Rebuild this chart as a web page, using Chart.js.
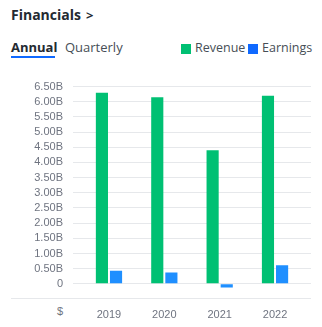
<!DOCTYPE html>
<html>
<head>
<meta charset="utf-8">
<script src="https://cdn.jsdelivr.net/npm/chart.js@4"></script>
<style>
  body { margin: 0; background: #fff; font-family: "Open Sans", sans-serif; color: #232a31; }
  #wrap { position: relative; width: 322px; height: 327px; overflow: hidden; }
  .abs { position: absolute; white-space: nowrap; }
  #title { left: 11px; top: 5px; font-size: 14px; font-weight: 700; }
  #chev { margin-left: 5px; font-size: 13px; }
  #annual { left: 11px; top: 38px; font-size: 13px; font-weight: 700; }
  #annual-line { left: 11px; top: 56px; width: 44px; height: 2px; background: #0f69ff; }
  #quarterly { left: 65px; top: 38px; font-size: 13px; color: #464e56; }
  .sw { width: 10px; height: 10px; top: 44px; }
  .lg { top: 39px; font-size: 12.5px; color: #464e56; }
  #baseline { left: 11px; top: 298px; width: 300px; height: 1px; background: #e6e8eb; }
  #dollar { left: 57px; top: 305px; font-family: "Liberation Sans", Arial, sans-serif; font-size: 11px; color: #6f7480; }
  #cv { position: absolute; left: 0; top: 70px; }
</style>
</head>
<body>
<div id="wrap">
  <div class="abs" id="title">Financials<span id="chev">&gt;</span></div>
  <div class="abs" id="annual">Annual</div>
  <div class="abs" id="annual-line"></div>
  <div class="abs" id="quarterly">Quarterly</div>
  <div class="abs sw" style="left:181px;background:#00c073"></div>
  <div class="abs lg" style="left:195px">Revenue</div>
  <div class="abs sw" style="left:248px;background:#0f69ff"></div>
  <div class="abs lg" style="left:262px">Earnings</div>
  <div class="abs" id="baseline"></div>
  <div class="abs" id="dollar">$</div>
  <canvas id="cv" width="322" height="257"></canvas>
</div>
<script>
// values in billions
let years = [2019, 2020, 2021, 2022];
let revenue = [6.30, 6.15, 4.40, 6.20];
let earnings = [0.43, 0.37, -0.12, 0.61];

const data = {
  datasets: [{
    label: 'Revenue',
    backgroundColor: '#00c073',
    data: years.map((y, i) => ({ x: y, y: revenue[i] })),
    categoryPercentage: 0.51,
    barPercentage: 0.86,
  }, {
    label: 'Earnings',
    backgroundColor: '#1f8fff',
    data: years.map((y, i) => ({ x: y, y: earnings[i] })),
    categoryPercentage: 0.51,
    barPercentage: 0.86,
  }]
};

const tickFont = { family: '"Liberation Sans", Arial, sans-serif', size: 11 };

const config = {
  type: 'bar',
  data: data,
  options: {
    responsive: false,
    animation: false,
    layout: { padding: { top: 0, right: 11, left: 0, bottom: 0 } },
    plugins: { legend: { display: false }, tooltip: { enabled: false } },
    scales: {
      x: {
        type: 'linear',
        offset: false,
        min: 2018.35,
        max: 2022.65,
        afterBuildTicks: s => { s.ticks = years.map(v => ({ value: v })); },
        afterFit: s => { s.height = 28; },
        grid: { display: false, drawTicks: false },
        border: { display: false },
        ticks: { color: '#6f7480', font: tickFont, padding: 9, autoSkip: false, callback: v => String(v), maxRotation: 0 }
      },
      y: {
        min: -0.5,
        max: 6.5,
        afterBuildTicks: s => {
          let t = [];
          for (let i = -1; i <= 13; i++) t.push({ value: i * 0.5 });
          s.ticks = t;
        },
        afterFit: s => { s.width = 73; },
        grid: {
          drawTicks: false,
          color: c => (c.tick && c.tick.value < 0) ? 'rgba(0,0,0,0)' : '#e6e8eb'
        },
        border: { display: false },
        ticks: {
          color: '#6f7480',
          font: tickFont,
          padding: 10,
          autoSkip: false,
          callback: v => v < 0 ? '' : (v === 0 ? '0' : v.toFixed(2) + 'B')
        }
      }
    }
  }
};

const myChart = new Chart(document.getElementById('cv'), config);
</script>
</body>
</html>
